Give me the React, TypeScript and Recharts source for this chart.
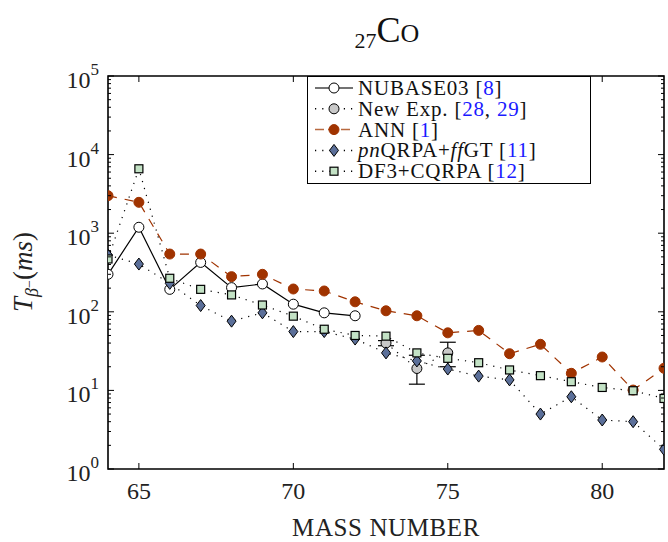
import { LineChart, Line, XAxis, YAxis, Legend, ErrorBar, ReferenceArea } from 'recharts';

// mass numbers of the 27Co isotopes
const masses = [64, 65, 66, 67, 68, 69, 70, 71, 72, 73, 74, 75, 76, 77, 78, 79, 80, 81, 82];

// half-lives in ms
const nubase = [300, 1190, 193, 425, 203, 226, 125, 97, 89]; // 64..72
const newExpMass = [73, 74, 75];
const newExp = [40, 19, 30];
const newExpErr = [[3, 3], [7, 9], [10, 11]];
const ann = [3000, 2470, 543, 543, 280, 300, 195, 184, 134, 103, 89, 54, 58, 29.3, 38.6, 16.5, 26.6, 10.1, 19.1];
const pnqrpa = [527, 405, 230, 120, 76, 97, 56, 56, 45, 30, 23.7, 18.7, 15.2, 13.6, 5.0, 8.3, 4.2, 4.0, 1.78];
const df3 = [470, 6600, 267, 193, 164, 122, 88, 60, 50, 49, 30, 25.6, 22.5, 18.2, 15.4, 12.9, 10.9, 9.9, 7.9];

const xTicks = [65, 70, 75, 80];
const decades = [1, 10, 100, 1000, 10000, 100000];

const W = 668;
const H = 542;
const M = { top: 76, right: 4, bottom: 0, left: 0 };
const YW = 108;
const XH = 73;
const plotRight = W - M.right;
const plotTop = M.top;

const FONT = '"Liberation Serif", "DejaVu Serif", serif';
const ANN_C = '#a03300';
const DIA_C = '#5b6f99';
const SQ_C = '#c3e2c5';
const EXP_C = '#c8c8c8';

const data = masses.map((m, i) => {
  const e = newExpMass.indexOf(m);
  return {
    mass: m,
    nubase: i < nubase.length ? nubase[i] : null,
    newExp: e >= 0 ? newExp[e] : null,
    err: e >= 0 ? newExpErr[e] : null,
    ann: ann[i],
    pnqrpa: pnqrpa[i],
    df3: df3[i],
  };
});

const yTicks: number[] = [];
decades.slice(0, -1).forEach(d => {
  for (let k = 1; k < 10; k++) yTicks.push(d * k);
});
yTicks.push(100000);

const circle = (fill: string, stroke: string) => (p: any) =>
  p.cy == null || p.value == null ? <g key={`c${p.index}`} /> :
    <circle key={`c${p.index}`} cx={p.cx} cy={p.cy} r={5} fill={fill} stroke={stroke} strokeWidth={1} />;

const diamond = (p: any) =>
  p.cy == null ? <g key={`d${p.index}`} /> :
    <path key={`d${p.index}`} d={`M${p.cx},${p.cy - 6}L${p.cx + 4.5},${p.cy}L${p.cx},${p.cy + 6}L${p.cx - 4.5},${p.cy}Z`}
      fill={DIA_C} stroke="#000" strokeWidth={1} />;

const square = (p: any) =>
  p.cy == null ? <g key={`s${p.index}`} /> :
    <rect key={`s${p.index}`} x={p.cx - 4} y={p.cy - 4} width={8} height={8} fill={SQ_C} stroke="#000" strokeWidth={1.2} />;

const XTick = (props: any) => {
  const { x, y, payload } = props;
  return (
    <g>
      <line x1={x} x2={x} y1={y} y2={y - 6} stroke="#000" strokeWidth={1} />
      <line x1={x} x2={x} y1={plotTop} y2={plotTop + 6} stroke="#000" strokeWidth={1} />
      <text x={x} y={y + 30} textAnchor="middle" fontSize={24} fontFamily={FONT} fill="#222">{payload.value}</text>
    </g>
  );
};

const YTick = (props: any) => {
  const { x, y, payload } = props;
  const lg = Math.log10(payload.value);
  const exp = Math.round(lg);
  const major = Math.abs(lg - exp) < 1e-6;
  const len = major ? 6 : 3;
  return (
    <g>
      <line x1={x} x2={x + len} y1={y} y2={y} stroke="#000" strokeWidth={1} />
      <line x1={plotRight} x2={plotRight - len} y1={y} y2={y} stroke="#000" strokeWidth={1} />
      {major && (
        <text x={x - 9} y={y + 12} textAnchor="end" fontSize={24} fontFamily={FONT} fill="#222">
          10<tspan dy={-13} fontSize={17}>{exp}</tspan>
        </text>
      )}
    </g>
  );
};

const Blue = ({ children }: any) => <tspan fill="#1a1aff">{children}</tspan>;

const legendRows = [
  { key: 'nubase', line: '#444', dash: undefined as string | undefined, mark: 'wc', text: <>NUBASE03 [<Blue>8</Blue>]</> },
  { key: 'newExp', line: '#000', dash: '1.2 6', mark: 'gc', text: <>New Exp. [<Blue>28</Blue>, <Blue>29</Blue>]</> },
  { key: 'ann', line: '#b86a40', dash: '9 4', mark: 'rc', text: <>ANN [<Blue>1</Blue>]</> },
  { key: 'pnqrpa', line: '#000', dash: '1.2 6', mark: 'dia', text: <><tspan fontStyle="italic">pn</tspan>QRPA+<tspan fontStyle="italic">ff</tspan>GT [<Blue>11</Blue>]</> },
  { key: 'df3', line: '#000', dash: '1.2 6', mark: 'sq', text: <>DF3+CQRPA [<Blue>12</Blue>]</> },
];

const LegendBox = () => (
  <svg width={284} height={108} style={{ display: 'block' }}>
    <rect x={0.5} y={0.5} width={283} height={107} fill="#fff" stroke="#000" strokeWidth={1} />
    {legendRows.map((r, i) => {
      const cy = 12 + i * 20.8;
      const mx = 27;
      return (
        <g key={r.key}>
          <line x1={8} x2={46} y1={cy} y2={cy} stroke={r.line} strokeWidth={1.5} strokeDasharray={r.dash} />
          {r.mark === 'wc' && <circle cx={mx} cy={cy} r={5} fill="#fff" stroke="#000" />}
          {r.mark === 'gc' && <circle cx={mx} cy={cy} r={5} fill={EXP_C} stroke="#000" />}
          {r.mark === 'rc' && <circle cx={mx} cy={cy} r={5} fill={ANN_C} stroke={ANN_C} />}
          {r.mark === 'dia' && <path d={`M${mx},${cy - 6}L${mx + 4.5},${cy}L${mx},${cy + 6}L${mx - 4.5},${cy}Z`} fill={DIA_C} stroke="#000" />}
          {r.mark === 'sq' && <rect x={mx - 4} y={cy - 4} width={8} height={8} fill={SQ_C} stroke="#000" strokeWidth={1.2} />}
          <text x={51} y={cy + 7} fontSize={21} letterSpacing={0.8} fontFamily={FONT} fill="#111">{r.text}</text>
        </g>
      );
    })}
  </svg>
);

export default function App() {
  return (
    <div style={{ position: 'absolute', left: 0, top: 0, width: W, height: H, background: '#fff' }}>
      <LineChart width={W} height={H} data={data} margin={M}>
        <XAxis dataKey="mass" type="number" domain={[64, 82]} ticks={xTicks} interval={0}
          height={XH} axisLine={false} tickLine={false} tickSize={0} tickMargin={0} tick={<XTick />} allowDataOverflow />
        <YAxis type="number" scale="log" domain={[1, 100000]} ticks={yTicks} interval={0}
          width={YW} axisLine={false} tickLine={false} tickSize={0} tickMargin={0} tick={<YTick />} allowDataOverflow />
        <ReferenceArea x1={64} x2={82} y1={1} y2={100000} fill="none" stroke="#000" strokeWidth={1.6} ifOverflow="visible" />
        <Line dataKey="nubase" stroke="#000" strokeWidth={1.2} dot={circle('#fff', '#000')} activeDot={false} isAnimationActive={false} />
        <Line dataKey="newExp" stroke="#000" strokeWidth={1.2} strokeDasharray="1.2 6" dot={circle(EXP_C, '#000')} activeDot={false} isAnimationActive={false}>
          <ErrorBar dataKey="err" direction="y" width={8} stroke="#000" strokeWidth={1.2} />
        </Line>
        <Line dataKey="ann" stroke={ANN_C} strokeWidth={1.2} strokeDasharray="9 8" dot={circle(ANN_C, ANN_C)} activeDot={false} isAnimationActive={false} />
        <Line dataKey="pnqrpa" stroke="#000" strokeWidth={1.2} strokeDasharray="1.2 6" dot={diamond} activeDot={false} isAnimationActive={false} />
        <Line dataKey="df3" stroke="#000" strokeWidth={1.2} strokeDasharray="1.2 6" dot={square} activeDot={false} isAnimationActive={false} />
        <Legend layout="horizontal" verticalAlign="middle" align="center" content={<LegendBox />}
          wrapperStyle={{ position: 'absolute', left: 307, top: 76, width: 284, height: 108 }} />
      </LineChart>
      <svg width={W} height={H} style={{ position: 'absolute', left: 0, top: 0, pointerEvents: 'none' }}>
        <text x={387} y={42} textAnchor="middle" fontFamily={FONT} fill="#111">
          <tspan fontSize={22} dy={6}>27</tspan>
          <tspan fontSize={36} dy={-6}>C</tspan>
          <tspan fontSize={26}>O</tspan>
        </text>
        <text x={386} y={536} textAnchor="middle" fontSize={25} letterSpacing={0.6} fontFamily={FONT} fill="#222">MASS NUMBER</text>
        <text transform="translate(32,272) rotate(-90)" textAnchor="middle" fontSize={27} fontFamily={FONT} fill="#222">
          <tspan fontStyle="italic">T</tspan>
          <tspan fontStyle="italic" fontSize={18} dy={6}>β</tspan>
          <tspan fontSize={14} dy={-4}>−</tspan>
          <tspan dy={-2}>(</tspan>
          <tspan fontStyle="italic">ms</tspan>
          <tspan>)</tspan>
        </text>
      </svg>
    </div>
  );
}
